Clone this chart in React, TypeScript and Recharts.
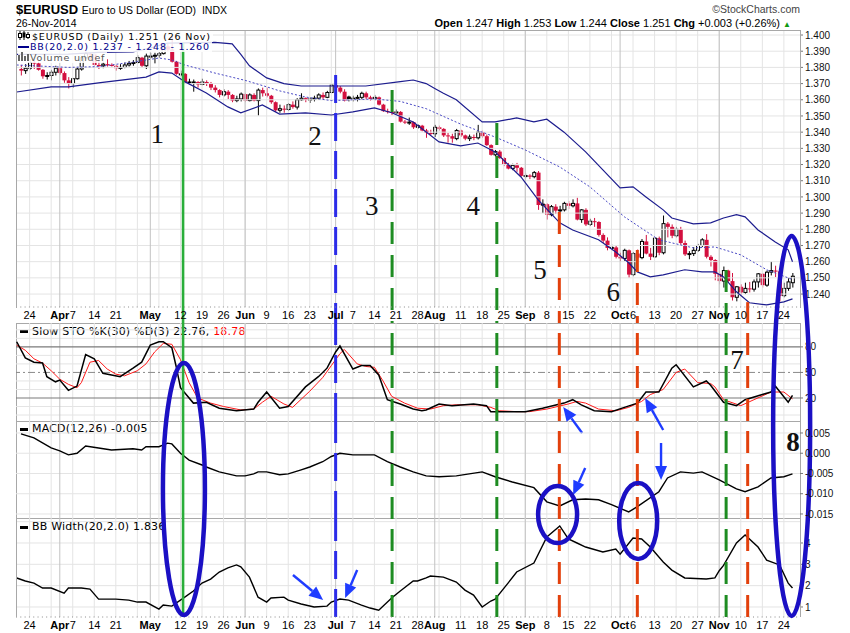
import React from 'react';
import { ComposedChart, Bar, Line, XAxis, YAxis, ReferenceLine, ReferenceDot } from 'recharts';

// ---------- daily candles: index 0 = 20-Mar-2014 ... 179 = 26-Nov-2014 ----------
const opens = [
  1.3790, 1.3780, 1.3795, 1.3830, 1.3825, 1.3785, 1.3745, 1.3750, 1.3770, 1.3795,
  1.3765, 1.3720, 1.3700, 1.3730, 1.3790, 1.3860, 1.3885, 1.3880, 1.3815, 1.3810,
  1.3820, 1.3815, 1.3810, 1.3795, 1.3800, 1.3815, 1.3825, 1.3830, 1.3860, 1.3810,
  1.3870, 1.3870, 1.3875, 1.3885, 1.3930, 1.3910, 1.3835, 1.3760, 1.3760, 1.3710,
  1.3710, 1.3710, 1.3695, 1.3710, 1.3700, 1.3675, 1.3660, 1.3630, 1.3650, 1.3630,
  1.3595, 1.3605, 1.3635, 1.3595, 1.3630, 1.3595, 1.3660, 1.3640, 1.3625, 1.3585,
  1.3535, 1.3545, 1.3540, 1.3570, 1.3555, 1.3600, 1.3610, 1.3600, 1.3605, 1.3610,
  1.3630, 1.3615, 1.3645, 1.3690, 1.3675, 1.3650, 1.3620, 1.3605, 1.3610, 1.3615,
  1.3640, 1.3615, 1.3605, 1.3615, 1.3570, 1.3530, 1.3525, 1.3520, 1.3525, 1.3465,
  1.3460, 1.3462, 1.3430, 1.3440, 1.3410, 1.3395, 1.3390, 1.3430, 1.3420, 1.3380,
  1.3375, 1.3360, 1.3410, 1.3380, 1.3360, 1.3370, 1.3365, 1.3400, 1.3375, 1.3320,
  1.3260, 1.3280, 1.3240, 1.3200, 1.3175, 1.3195, 1.3180, 1.3130, 1.3132, 1.3125,
  1.3150, 1.2950, 1.2955, 1.2890, 1.2940, 1.2915, 1.2920, 1.2960, 1.2945, 1.2960,
  1.2860, 1.2920, 1.2830, 1.2850, 1.2845, 1.2765, 1.2730, 1.2685, 1.2688, 1.2630,
  1.2620, 1.2670, 1.2520, 1.2650, 1.2625, 1.2725, 1.2650, 1.2630, 1.2745, 1.2655,
  1.2835, 1.2815, 1.2760, 1.2800, 1.2715, 1.2645, 1.2650, 1.2670, 1.2700, 1.2735,
  1.2630, 1.2610, 1.2525, 1.2480, 1.2545, 1.2480, 1.2380, 1.2445, 1.2410, 1.2435,
  1.2430, 1.2475, 1.2525, 1.2455, 1.2535, 1.2545, 1.2540, 1.2390, 1.2435, 1.2470,
];
const highs = [
  1.3815, 1.3820, 1.3850, 1.3845, 1.3835, 1.3790, 1.3770, 1.3785, 1.3810, 1.3800,
  1.3775, 1.3740, 1.3735, 1.3800, 1.3870, 1.3905, 1.3890, 1.3885, 1.3850, 1.3835,
  1.3850, 1.3825, 1.3815, 1.3820, 1.3830, 1.3840, 1.3845, 1.3875, 1.3865, 1.3885,
  1.3890, 1.3890, 1.3895, 1.3950, 1.3950, 1.3993, 1.3840, 1.3780, 1.3765, 1.3730,
  1.3725, 1.3715, 1.3730, 1.3720, 1.3710, 1.3690, 1.3665, 1.3665, 1.3660, 1.3635,
  1.3625, 1.3645, 1.3640, 1.3640, 1.3640, 1.3670, 1.3675, 1.3675, 1.3630, 1.3590,
  1.3570, 1.3565, 1.3580, 1.3590, 1.3610, 1.3640, 1.3615, 1.3615, 1.3625, 1.3640,
  1.3645, 1.3655, 1.3700, 1.3700, 1.3685, 1.3665, 1.3625, 1.3625, 1.3630, 1.3650,
  1.3650, 1.3625, 1.3630, 1.3620, 1.3575, 1.3545, 1.3535, 1.3540, 1.3530, 1.3475,
  1.3490, 1.3465, 1.3450, 1.3445, 1.3420, 1.3415, 1.3445, 1.3440, 1.3425, 1.3395,
  1.3390, 1.3420, 1.3415, 1.3385, 1.3385, 1.3385, 1.3445, 1.3410, 1.3385, 1.3325,
  1.3290, 1.3290, 1.3245, 1.3210, 1.3205, 1.3210, 1.3185, 1.3145, 1.3140, 1.3160,
  1.3160, 1.2985, 1.2960, 1.2950, 1.2955, 1.2945, 1.2970, 1.2975, 1.2985, 1.2995,
  1.2925, 1.2930, 1.2865, 1.2870, 1.2850, 1.2775, 1.2750, 1.2705, 1.2700, 1.2655,
  1.2680, 1.2675, 1.2660, 1.2675, 1.2740, 1.2765, 1.2685, 1.2750, 1.2755, 1.2885,
  1.2845, 1.2830, 1.2815, 1.2815, 1.2730, 1.2665, 1.2690, 1.2710, 1.2745, 1.2770,
  1.2640, 1.2615, 1.2545, 1.2570, 1.2550, 1.2530, 1.2450, 1.2460, 1.2470, 1.2475,
  1.2490, 1.2530, 1.2530, 1.2545, 1.2600, 1.2575, 1.2555, 1.2470, 1.2500, 1.2530,
];
const lows = [
  1.3750, 1.3760, 1.3785, 1.3790, 1.3780, 1.3730, 1.3725, 1.3720, 1.3750, 1.3755,
  1.3705, 1.3670, 1.3675, 1.3725, 1.3780, 1.3850, 1.3840, 1.3810, 1.3790, 1.3795,
  1.3805, 1.3805, 1.3780, 1.3785, 1.3795, 1.3805, 1.3810, 1.3825, 1.3800, 1.3790,
  1.3855, 1.3825, 1.3860, 1.3880, 1.3895, 1.3830, 1.3755, 1.3745, 1.3700, 1.3695,
  1.3650, 1.3675, 1.3690, 1.3685, 1.3660, 1.3645, 1.3615, 1.3620, 1.3605, 1.3585,
  1.3585, 1.3590, 1.3585, 1.3590, 1.3590, 1.3503, 1.3620, 1.3615, 1.3575, 1.3525,
  1.3520, 1.3520, 1.3530, 1.3545, 1.3540, 1.3595, 1.3585, 1.3580, 1.3590, 1.3600,
  1.3605, 1.3610, 1.3640, 1.3665, 1.3640, 1.3590, 1.3590, 1.3590, 1.3590, 1.3600,
  1.3600, 1.3595, 1.3595, 1.3565, 1.3525, 1.3515, 1.3505, 1.3510, 1.3460, 1.3450,
  1.3445, 1.3420, 1.3420, 1.3405, 1.3365, 1.3380, 1.3370, 1.3410, 1.3370, 1.3335,
  1.3335, 1.3350, 1.3370, 1.3350, 1.3345, 1.3350, 1.3355, 1.3365, 1.3315, 1.3255,
  1.3250, 1.3235, 1.3190, 1.3170, 1.3165, 1.3155, 1.3125, 1.3115, 1.3110, 1.3115,
  1.2920, 1.2900, 1.2860, 1.2880, 1.2895, 1.2905, 1.2910, 1.2925, 1.2935, 1.2855,
  1.2840, 1.2820, 1.2820, 1.2815, 1.2755, 1.2715, 1.2670, 1.2670, 1.2620, 1.2600,
  1.2605, 1.2500, 1.2510, 1.2615, 1.2615, 1.2645, 1.2610, 1.2625, 1.2640, 1.2645,
  1.2750, 1.2745, 1.2750, 1.2705, 1.2635, 1.2615, 1.2635, 1.2660, 1.2690, 1.2620,
  1.2570, 1.2485, 1.2460, 1.2440, 1.2470, 1.2360, 1.2355, 1.2395, 1.2400, 1.2410,
  1.2415, 1.2440, 1.2440, 1.2445, 1.2515, 1.2505, 1.2355, 1.2380, 1.2420, 1.2440,
];
const closes = [
  1.3780, 1.3795, 1.3830, 1.3825, 1.3785, 1.3745, 1.3750, 1.3770, 1.3795, 1.3765,
  1.3720, 1.3700, 1.3730, 1.3790, 1.3860, 1.3885, 1.3880, 1.3815, 1.3810, 1.3820,
  1.3815, 1.3810, 1.3795, 1.3800, 1.3815, 1.3825, 1.3830, 1.3860, 1.3810, 1.3870,
  1.3870, 1.3875, 1.3885, 1.3930, 1.3910, 1.3835, 1.3760, 1.3760, 1.3710, 1.3710,
  1.3710, 1.3695, 1.3710, 1.3700, 1.3675, 1.3660, 1.3630, 1.3650, 1.3630, 1.3595,
  1.3605, 1.3635, 1.3595, 1.3630, 1.3595, 1.3660, 1.3640, 1.3625, 1.3585, 1.3535,
  1.3545, 1.3540, 1.3570, 1.3555, 1.3600, 1.3610, 1.3600, 1.3605, 1.3610, 1.3630,
  1.3615, 1.3645, 1.3690, 1.3675, 1.3650, 1.3595, 1.3605, 1.3610, 1.3615, 1.3640,
  1.3615, 1.3605, 1.3615, 1.3570, 1.3530, 1.3525, 1.3520, 1.3525, 1.3465, 1.3460,
  1.3462, 1.3430, 1.3440, 1.3410, 1.3395, 1.3390, 1.3430, 1.3420, 1.3380, 1.3375,
  1.3360, 1.3410, 1.3380, 1.3360, 1.3370, 1.3365, 1.3400, 1.3375, 1.3320, 1.3260,
  1.3280, 1.3240, 1.3200, 1.3175, 1.3195, 1.3180, 1.3130, 1.3132, 1.3125, 1.3150,
  1.2950, 1.2955, 1.2890, 1.2940, 1.2915, 1.2920, 1.2960, 1.2945, 1.2960, 1.2860,
  1.2920, 1.2830, 1.2850, 1.2845, 1.2765, 1.2730, 1.2685, 1.2688, 1.2630, 1.2620,
  1.2670, 1.2520, 1.2650, 1.2625, 1.2725, 1.2650, 1.2630, 1.2745, 1.2655, 1.2835,
  1.2815, 1.2760, 1.2800, 1.2715, 1.2645, 1.2650, 1.2670, 1.2700, 1.2735, 1.2630,
  1.2610, 1.2525, 1.2480, 1.2545, 1.2480, 1.2380, 1.2445, 1.2410, 1.2435, 1.2430,
  1.2475, 1.2525, 1.2455, 1.2535, 1.2545, 1.2540, 1.2390, 1.2435, 1.2475, 1.2510,
];

// ---------- indicator lines: [dayIndex, value] ----------
const bbUpper = [[-1,1.3880],[11,1.3882],[18,1.3893],[26,1.3895],[30,1.3920],[34,1.3950],[45,1.3955],[49,1.3945],[51,1.3880],[53,1.3810],[57,1.3735],[61,1.3700],[65,1.3685],[72,1.3685],[80,1.3685],[88,1.3712],[91,1.3722],[94,1.3700],[96,1.3670],[98,1.3640],[101,1.3600],[107,1.3463],[110,1.3463],[115,1.3488],[119,1.3463],[122,1.3480],[126,1.3400],[131,1.3278],[135,1.3167],[139,1.3056],[142,1.3062],[145,1.3000],[149,1.2920],[151,1.2870],[156,1.2833],[160,1.2840],[163,1.2870],[166,1.2890],[168,1.2877],[171,1.2796],[175,1.2722],[178,1.2673],[179,1.2600]];
const bbMid = [[-1,1.3815],[11,1.3800],[18,1.3805],[26,1.3833],[32,1.3858],[35,1.3846],[38,1.3815],[45,1.3765],[52,1.3720],[57,1.3680],[60,1.3655],[66,1.3617],[72,1.3595],[82,1.3605],[88,1.3590],[94,1.3545],[102,1.3450],[110,1.3370],[117,1.3290],[125,1.3185],[132,1.3062],[140,1.2877],[148,1.2735],[156,1.2685],[161,1.2691],[167,1.2642],[173,1.2550],[179,1.2490]];
const bbLower = [[-1,1.3648],[7,1.3680],[11,1.3680],[18,1.3704],[29,1.3740],[32,1.3772],[35,1.3765],[38,1.3712],[43,1.3642],[48,1.3556],[51,1.3519],[56,1.3568],[60,1.3512],[66,1.3519],[72,1.3506],[77,1.3525],[82,1.3550],[86,1.3520],[91,1.3463],[97,1.3340],[102,1.3315],[106,1.3333],[110,1.3278],[116,1.3123],[120,1.2982],[125,1.2840],[128,1.2796],[134,1.2735],[138,1.2660],[141,1.2593],[143,1.2537],[146,1.2506],[149,1.2518],[154,1.2550],[158,1.2537],[161,1.2537],[163,1.2506],[166,1.2414],[169,1.2346],[173,1.2333],[177,1.2352],[179,1.2370]];
const stoK = [[-1,86],[1,67],[3,62],[5,61],[6,45],[8,39],[9,41],[11,29],[13,34],[15,71],[17,66],[19,49],[21,47],[23,45],[26,55],[28,62],[30,82],[32,86],[33,86],[35,79],[36,57],[37,32],[40,14],[43,15],[46,8],[50,5],[54,7],[55,15],[57,27],[60,8],[62,10],[66,33],[69,45],[71,55],[73,74],[74,81],[77,54],[79,58],[81,58],[83,47],[85,18],[88,13],[91,7],[93,5],[94,6],[97,13],[100,11],[105,13],[108,11],[109,4],[114,4],[117,4],[121,8],[126,14],[128,18],[130,12],[133,5],[137,4],[140,9],[143,14],[145,27],[148,27],[151,55],[152,59],[156,33],[159,40],[160,35],[163,15],[166,11],[168,18],[172,24],[174,27],[175,34],[178,15],[179,23]];
const stoD = [[-1,82],[1,76],[3,66],[5,61],[7,52],[9,42],[11,36],[13,32],[14,38],[16,62],[18,64],[20,54],[22,48],[24,46],[27,52],[29,60],[31,74],[33,84],[35,83],[37,65],[39,38],[41,20],[44,14],[47,10],[51,6],[54,7],[56,15],[58,22],[61,13],[63,9],[67,28],[70,44],[72,58],[74,72],[75,77],[78,60],[80,57],[82,56],[84,40],[86,22],[89,14],[92,8],[95,7],[98,11],[101,12],[106,12],[109,9],[111,5],[115,4],[118,4],[122,7],[127,13],[129,16],[131,14],[134,7],[138,5],[141,9],[144,16],[146,24],[149,30],[152,50],[154,54],[157,38],[160,37],[161,33],[163,18],[167,11],[174,27],[177,27],[179,19]];
const macd = [[0,0.0048],[3,0.0038],[7,0.0013],[9,0.0006],[11,-0.0004],[13,0.0000],[15,0.0018],[18,0.0013],[21,0.0008],[26,0.0011],[28,0.0008],[29,0.0016],[32,0.0016],[34,0.0025],[35,0.0023],[37,0.0000],[39,-0.0017],[42,-0.0029],[43,-0.0034],[46,-0.0046],[50,-0.0056],[52,-0.0056],[54,-0.0051],[55,-0.0046],[57,-0.0046],[60,-0.0053],[62,-0.0051],[65,-0.0041],[67,-0.0034],[70,-0.0021],[72,-0.0008],[74,0.0000],[77,-0.0004],[82,-0.0004],[85,-0.0021],[88,-0.0034],[91,-0.0046],[94,-0.0056],[97,-0.0058],[101,-0.0056],[107,-0.0046],[110,-0.0058],[114,-0.0071],[119,-0.0085],[122,-0.0120],[125,-0.0130],[128,-0.0115],[131,-0.0113],[134,-0.0115],[137,-0.0127],[141,-0.0145],[143,-0.0132],[148,-0.0095],[150,-0.0061],[153,-0.0046],[156,-0.0049],[158,-0.0046],[162,-0.0066],[166,-0.0088],[168,-0.0095],[171,-0.0083],[174,-0.0061],[177,-0.0058],[179,-0.0051]];
const bbWidth = [[-1,2.36],[1,2.22],[3,2.12],[5,1.89],[7,1.89],[10,1.65],[11,1.89],[14,1.89],[16,1.84],[18,1.37],[22,1.37],[25,1.32],[27,1.23],[29,1.23],[32,0.90],[33,1.09],[35,1.04],[38,1.46],[40,1.75],[42,2.12],[44,2.31],[46,2.64],[48,2.83],[50,2.97],[51,2.88],[53,2.40],[55,1.46],[57,1.23],[58,1.42],[61,1.46],[62,1.32],[65,1.14],[68,1.00],[71,1.04],[72,1.23],[74,1.37],[76,1.32],[79,1.09],[81,0.95],[83,0.85],[86,1.42],[88,1.75],[91,2.22],[92,2.22],[94,2.36],[95,2.45],[98,2.40],[101,2.17],[103,1.79],[105,1.56],[107,1.00],[109,1.28],[110,1.37],[113,2.12],[115,2.64],[119,3.06],[122,4.28],[125,4.80],[127,4.19],[129,4.00],[131,3.81],[135,3.58],[138,3.72],[139,3.48],[142,4.23],[144,4.19],[146,3.81],[149,3.11],[151,2.73],[154,2.36],[159,2.31],[161,2.36],[162,2.70],[163,2.95],[166,4.00],[168,4.38],[171,3.81],[173,3.20],[176,2.97],[178,2.12],[179,1.89]];

// ---------- axis ticks ----------
const dateTickIdx = [2, 9, 12, 17, 22, 30, 37, 42, 47, 52, 57, 62, 67, 73, 77, 82, 87, 92, 96, 102, 107, 112, 117, 122, 127, 132, 139, 142, 147, 152, 157, 162, 167, 172, 177];
const dateTickText = ['24', 'Apr', '7', '14', '21', 'May', '12', '19', '26', 'Jun', '9', '16', '23', 'Jul', '7', '14', '21', '28', 'Aug', '11', '18', '25', 'Sep', '8', '15', '22', 'Oct', '6', '13', '20', '27', 'Nov', '10', '17', '24'];
const monthIdx = [9, 30, 52, 73, 96, 117, 139, 162];
const weekIdx = [2, 7, 12, 17, 22, 27, 32, 37, 42, 47, 52, 57, 62, 67, 72, 77, 82, 87, 92, 97, 102, 107, 112, 117, 122, 127, 132, 137, 142, 147, 152, 157, 162, 167, 172, 177];
const priceTicks = [1.24, 1.25, 1.26, 1.27, 1.28, 1.29, 1.30, 1.31, 1.32, 1.33, 1.34, 1.35, 1.36, 1.37, 1.38, 1.39, 1.40];
const stoTicks = [20, 50, 80];
const stoLightLines = [0, 10, 30, 40, 60, 70, 90, 100];
const macdTicks = [-0.015, -0.010, -0.005, 0, 0.005];
const bbwTicks = [1, 2, 3, 4];
const bbwGrid = [1, 2, 3, 4, 5];

// ---------- hand-drawn annotations (positions in day index / panel units) ----------
const markerIdx = [37.6, 73.0, 86.1, 110.4, 124.9, 143.0, 163.6, 168.6];
const markerTop = [1.3951, 1.3753, 1.3660, 1.3457, 1.2907, 1.2672, 1.2549, 1.2350];
const markerKind = ['solidGreen', 'dashBlue', 'dashGreen', 'dashGreen', 'dashRed', 'dashRed', 'dashGreen', 'dashRed'];
const numberLabels = [
  { t: '1', i: 31.6, v: 1.3389 }, { t: '2', i: 68.2, v: 1.3376 }, { t: '3', i: 81.4, v: 1.2944 },
  { t: '4', i: 104.9, v: 1.2944 }, { t: '5', i: 120.4, v: 1.2549 }, { t: '6', i: 137.4, v: 1.2413 },
];
const ellipses = [
  { i: 37.8, v: -0.00883, rx: 21, ry: 126 },
  { i: 124.5, v: -0.01513, rx: 19.5, ry: 28.5 },
  { i: 143.2, v: -0.01673, rx: 19, ry: 38 },
  { i: 178.8, v: 0.00673, rx: 18.5, ry: 190 },
];
const bbwArrows = [[[63.1, 2.50], [70.1, 1.33]], [[78.0, 2.73], [75.2, 1.42]]];
const stoArrows = [[[130.2, -21.1], [125.8, 9.4]], [[149.0, -17.6], [144.8, 20.0]]];
const macdArrows = [[[130.9, -0.00365], [128.1, -0.01031]], [[148.5, 0.00253], [148.5, -0.00661]]];

// ---------- constants ----------
const X_DOMAIN = [-1.16, 180.74];
const PRICE_DOMAIN = [1.2320, 1.4031];
const STO_DOMAIN = [-7, 108];
const MACD_DOMAIN = [-0.01624, 0.00796];
const BBW_DOMAIN = [0.53, 5.125];
const LABEL_ROW_BOTTOM = 1.2221;
const FONT_UI = '"DejaVu Sans", Verdana, sans-serif';
const FONT_AX = '"Liberation Sans", Arial, sans-serif';
const FONT_NUM = '"Liberation Serif", "DejaVu Serif", serif';
const RED = '#d3103f';
const BB = '#1c1c8e';
const ANNO = '#1b10c4';
const ARROW = '#1f3cff';
const GRID = '#e4e4e4';
const MONTH_GRID = '#c2c2c2';
const MARGIN = { top: 0, right: 0, bottom: 0, left: 16 };

const kindStyle: any = {
  solidGreen: { stroke: '#2aae3a', w: 2.6, dash: undefined },
  dashBlue: { stroke: '#2b2be8', w: 3, dash: '28 10' },
  dashGreen: { stroke: '#1e8c22', w: 3, dash: '22 11' },
  dashRed: { stroke: '#e2400c', w: 3, dash: '22 11' },
};

const pts = (a: number[][]) => a.map(([i, v]) => ({ i, v }));
const candles = closes.map((c, i) => ({
  i, o: opens[i], h: highs[i], l: lows[i], c, prev: i > 0 ? closes[i - 1] : opens[i],
}));

const Candle = (p: any) => {
  const { x, y, width, height, payload } = p;
  if (!payload || !isFinite(y) || !isFinite(x)) return null;
  const { o, h, l, c, prev } = payload;
  const span = h - l;
  const toY = (v: number) => (span > 0 ? y + ((h - v) / span) * height : y);
  const cx = x + width / 2;
  const color = c >= prev ? '#000000' : RED;
  const hollow = c >= o;
  const top = toY(Math.max(o, c));
  const bot = toY(Math.min(o, c));
  const bh = Math.max(bot - top, 1);
  return (
    <g>
      <line x1={cx} x2={cx} y1={y} y2={y + height} stroke={color} strokeWidth={1} />
      {hollow ? (
        <rect x={cx - 1.5} y={top} width={3} height={bh} fill="#fff" stroke={color} strokeWidth={1} />
      ) : (
        <rect x={cx - 2} y={top} width={4} height={bh} fill={color} />
      )}
    </g>
  );
};

const DateTick = (p: any) => {
  const k = dateTickIdx.indexOf(p.payload.value);
  const bold = monthIdx.includes(p.payload.value);
  return (
    <text x={p.x} y={p.y + 12} textAnchor="middle" fontSize={11} fontWeight={bold ? 'bold' : 'normal'} fontFamily={FONT_AX} fill="#000">
      {k >= 0 ? dateTickText[k] : ''}
    </text>
  );
};

const rightTick = (fmt: (v: number) => string) => (p: any) => (
  <text x={p.x} y={p.y} dy={3.6} textAnchor="start" fontSize={10} fontFamily={FONT_AX} fill="#111">
    {fmt(p.payload.value)}
  </text>
);

const arrowShape = (p: any) => {
  const { x1, y1, x2, y2 } = p;
  const ang = Math.atan2(y2 - y1, x2 - x1);
  const L = 14, hw = 6;
  const bx = x2 - L * Math.cos(ang), by = y2 - L * Math.sin(ang);
  const px = -Math.sin(ang) * hw, py = Math.cos(ang) * hw;
  return (
    <g>
      <line x1={x1} y1={y1} x2={bx} y2={by} stroke={ARROW} strokeWidth={2.4} />
      <polygon points={`${x2},${y2} ${bx + px},${by + py} ${bx - px},${by - py}`} fill={ARROW} />
    </g>
  );
};

const ellipseShape = (rx: number, ry: number) => (p: any) => (
  <ellipse cx={p.cx} cy={p.cy} rx={rx} ry={ry} fill="none" stroke={ANNO} strokeWidth={4.5} />
);

const numberShape = (t: string, bold: boolean) => (p: any) => (
  <text x={p.cx} y={p.cy} dy={9} textAnchor="middle" fontSize={27} fontWeight={bold ? 'bold' : 'normal'} fontFamily={FONT_NUM} fill="#111">
    {t}
  </text>
);

const verticalGrid = () => [
  ...weekIdx.map((i) => <ReferenceLine key={'w' + i} x={i} stroke={GRID} strokeWidth={1} />),
  ...monthIdx.map((i) => <ReferenceLine key={'m' + i} x={i} stroke={MONTH_GRID} strokeWidth={1} />),
];

const markerLines = () =>
  markerIdx.map((mi, k) => {
    const s = kindStyle[markerKind[k]];
    return <ReferenceLine key={'mk' + k} x={mi} stroke={s.stroke} strokeWidth={s.w} strokeDasharray={s.dash} />;
  });

const priceLegend: any = { fontFamily: FONT_UI, fontSize: 9.5, lineHeight: '10px', letterSpacing: '0.8px', whiteSpace: 'nowrap', position: 'absolute', background: 'rgba(255,255,255,0.85)', paddingRight: 2 };
const panelLegend: any = { fontFamily: FONT_UI, fontSize: 11, lineHeight: '11px', letterSpacing: '0.2px', whiteSpace: 'nowrap', position: 'absolute' };

export default function App() {
  return (
    <div style={{ position: 'absolute', left: 0, top: 0, width: 850, height: 633, background: '#fff', overflow: 'hidden' }}>
      <style>{'.recharts-wrapper, .recharts-surface { overflow: visible !important; }'}</style>

      {/* header */}
      <div style={{ position: 'absolute', left: 16, top: 2, fontFamily: FONT_AX, fontSize: 13, fontWeight: 'bold', lineHeight: '15px', whiteSpace: 'nowrap' }}>
        $EURUSD <span style={{ fontWeight: 'normal', fontSize: 10.5 }}>Euro to US Dollar (EOD)&nbsp; INDX</span>
      </div>
      <div style={{ position: 'absolute', left: 16, top: 17, fontFamily: FONT_AX, fontSize: 10.5, lineHeight: '12px' }}>26-Nov-2014</div>
      <div style={{ position: 'absolute', right: 50, top: 3, fontFamily: FONT_AX, fontSize: 10.5, lineHeight: '12px', color: '#444' }}>©StockCharts.com</div>
      <div style={{ position: 'absolute', right: 59, top: 16.5, fontFamily: FONT_AX, fontSize: 11, lineHeight: '12px', whiteSpace: 'nowrap' }}>
        <b>Open</b> 1.247 <b>High</b> 1.253 <b>Low</b> 1.244 <b>Close</b> 1.251 <b>Chg</b> +0.003 (+0.26%) <span style={{ color: '#119911', fontSize: 8 }}>▲</span>
      </div>

      {/* panel borders */}
      <div style={{ position: 'absolute', left: 16, top: 30, width: 783, height: 277, borderTop: '1px solid #a8a8a8', borderLeft: '1px solid #a8a8a8', borderRight: '1px solid #a8a8a8', zIndex: 2 }} />
      <div style={{ position: 'absolute', left: 16, top: 323, width: 783, height: 97, border: '1px solid #a8a8a8', zIndex: 2 }} />
      <div style={{ position: 'absolute', left: 16, top: 421, width: 783, height: 97, borderLeft: '1px solid #a8a8a8', borderRight: '1px solid #a8a8a8', borderBottom: '1px solid #a8a8a8', zIndex: 2 }} />
      <div style={{ position: 'absolute', left: 16, top: 519, width: 783, height: 98, borderLeft: '1px solid #a8a8a8', borderRight: '1px solid #a8a8a8', zIndex: 2 }} />

      {/* price panel */}
      <div style={{ position: 'absolute', left: 0, top: 30, width: 850, height: 293, zIndex: 1 }}>
        <ComposedChart width={850} height={293} data={candles} margin={MARGIN}>
          <XAxis dataKey="i" type="number" domain={X_DOMAIN} allowDataOverflow ticks={dateTickIdx} interval={0}
            tick={DateTick} tickLine={false} tickSize={0} tickMargin={0} height={16}
            axisLine={{ stroke: '#8a8a8a', strokeDasharray: '1 3.31' }} />
          <YAxis orientation="right" width={50} domain={PRICE_DOMAIN} allowDataOverflow ticks={priceTicks} interval={0}
            tick={rightTick((v) => v.toFixed(3))} tickSize={3} tickMargin={2} tickLine={{ stroke: '#777' }} axisLine={false} />
          {priceTicks.map((v) => <ReferenceLine key={'h' + v} y={v} stroke={GRID} strokeWidth={1} />)}
          {verticalGrid()}
          <Line data={pts(bbUpper)} dataKey="v" type="linear" stroke={BB} strokeWidth={1.2} dot={false} isAnimationActive={false} />
          <Line data={pts(bbMid)} dataKey="v" type="linear" stroke="#4848c4" strokeWidth={1} strokeDasharray="2 2" dot={false} isAnimationActive={false} />
          <Line data={pts(bbLower)} dataKey="v" type="linear" stroke={BB} strokeWidth={1.2} dot={false} isAnimationActive={false} />
          <Bar dataKey={(d: any) => [d.l, d.h]} barSize={3} shape={Candle} isAnimationActive={false} />
          {markerIdx.map((mi, k) => {
            const s = kindStyle[markerKind[k]];
            return (
              <ReferenceLine key={'pm' + k} ifOverflow="visible" stroke={s.stroke} strokeWidth={s.w} strokeDasharray={s.dash}
                segment={[{ x: mi, y: markerTop[k] }, { x: mi, y: LABEL_ROW_BOTTOM }]} />
            );
          })}
          {numberLabels.map((n) => (
            <ReferenceDot key={'n' + n.t} x={n.i} y={n.v} ifOverflow="visible" shape={numberShape(n.t, false)} />
          ))}
        </ComposedChart>
      </div>

      {/* price legend */}
      <div style={{ ...priceLegend, left: 18, top: 31, zIndex: 6 }}>
        <svg width={12} height={9} style={{ marginRight: 2, verticalAlign: 'baseline' }}>
          <line x1={2} y1={0} x2={2} y2={9} stroke="#000" /><rect x={0.5} y={2.5} width={3} height={4} fill="#fff" stroke="#000" />
          <line x1={6} y1={0} x2={6} y2={9} stroke="#000" /><rect x={4.5} y={1.5} width={3} height={5} fill="#000" />
          <line x1={10} y1={1} x2={10} y2={8} stroke="#000" /><rect x={8.5} y={3.5} width={3} height={3} fill="#fff" stroke="#000" />
        </svg>
        $EURUSD (Daily) 1.251 (26 Nov)
      </div>
      <div style={{ ...priceLegend, left: 18, top: 41.5, zIndex: 6, color: '#00008b' }}>
        <span style={{ display: 'inline-block', width: 11, height: 2, background: '#00008b', verticalAlign: 'middle', marginRight: 1 }} />BB(20,2.0) 1.237 - 1.248 - 1.260
      </div>
      <div style={{ ...priceLegend, left: 18, top: 52, zIndex: 6, color: '#555' }}>
        <svg width={11} height={9} style={{ marginRight: 1, verticalAlign: 'baseline' }}>
          <rect x={0} y={3} width={2} height={6} fill="#666" /><rect x={3} y={0} width={2} height={9} fill="#666" />
          <rect x={6} y={4} width={2} height={5} fill="#666" /><rect x={9} y={2} width={2} height={7} fill="#666" />
        </svg>
        Volume undef
      </div>

      {/* slow stochastic panel */}
      <div style={{ position: 'absolute', left: 0, top: 323, width: 850, height: 98, zIndex: 9 }}>
        <ComposedChart width={850} height={98} margin={MARGIN}>
          <XAxis dataKey="i" type="number" domain={X_DOMAIN} allowDataOverflow hide />
          <YAxis orientation="right" width={50} domain={STO_DOMAIN} allowDataOverflow ticks={stoTicks} interval={0}
            tick={rightTick((v) => String(v))} tickSize={3} tickMargin={2} tickLine={{ stroke: '#777' }} axisLine={false} />
          {stoLightLines.map((v) => <ReferenceLine key={'sl' + v} y={v} stroke={GRID} strokeWidth={1} />)}
          {verticalGrid()}
          <ReferenceLine y={80} stroke="#7a7a7a" strokeWidth={1.2} />
          <ReferenceLine y={20} stroke="#7a7a7a" strokeWidth={1.2} />
          <ReferenceLine y={50} stroke="#8a8a8a" strokeWidth={1} strokeDasharray="7 3 2 3" />
          <Line data={pts(stoD)} dataKey="v" type="linear" stroke="#ff1a1a" strokeWidth={1} dot={false} isAnimationActive={false} />
          <Line data={pts(stoK)} dataKey="v" type="linear" stroke="#000" strokeWidth={1.5} dot={false} isAnimationActive={false} />
          {markerLines()}
          {stoArrows.map((a, k) => (
            <ReferenceLine key={'sa' + k} ifOverflow="visible" segment={[{ x: a[0][0], y: a[0][1] }, { x: a[1][0], y: a[1][1] }]} shape={arrowShape} />
          ))}
          <ReferenceDot x={166.1} y={64.6} ifOverflow="visible" shape={numberShape('7', false)} />
        </ComposedChart>
      </div>
      <div style={{ ...panelLegend, left: 20, top: 325.5, zIndex: 6 }}>
        <span style={{ display: 'inline-block', width: 8, height: 3, background: '#000', verticalAlign: 'middle', marginRight: 4 }} />
        Slow STO %K(30) %D(3) 22.76, <span style={{ color: '#ff0000' }}>18.78</span>
      </div>

      {/* MACD panel */}
      <div style={{ position: 'absolute', left: 0, top: 421, width: 850, height: 98, zIndex: 10 }}>
        <ComposedChart width={850} height={98} margin={MARGIN}>
          <XAxis dataKey="i" type="number" domain={X_DOMAIN} allowDataOverflow hide />
          <YAxis orientation="right" width={50} domain={MACD_DOMAIN} allowDataOverflow ticks={macdTicks} interval={0}
            tick={rightTick((v) => v.toFixed(3))} tickSize={3} tickMargin={2} tickLine={{ stroke: '#777' }} axisLine={false} />
          {macdTicks.map((v) => <ReferenceLine key={'mh' + v} y={v} stroke={GRID} strokeWidth={1} />)}
          {verticalGrid()}
          <Line data={pts(macd)} dataKey="v" type="linear" stroke="#000" strokeWidth={1.4} dot={false} isAnimationActive={false} />
          {markerLines()}
          {macdArrows.map((a, k) => (
            <ReferenceLine key={'ma' + k} ifOverflow="visible" segment={[{ x: a[0][0], y: a[0][1] }, { x: a[1][0], y: a[1][1] }]} shape={arrowShape} />
          ))}
          {ellipses.map((e, k) => (
            <ReferenceDot key={'el' + k} x={e.i} y={e.v} ifOverflow="visible" shape={ellipseShape(e.rx, e.ry)} />
          ))}
          <ReferenceDot x={179.1} y={0.00277} ifOverflow="visible" shape={numberShape('8', true)} />
        </ComposedChart>
      </div>
      <div style={{ ...panelLegend, left: 20, top: 423, zIndex: 6 }}>
        <span style={{ display: 'inline-block', width: 8, height: 3, background: '#000', verticalAlign: 'middle', marginRight: 4 }} />
        MACD(12,26) -0.005
      </div>

      {/* BB width panel */}
      <div style={{ position: 'absolute', left: 0, top: 519, width: 850, height: 114, zIndex: 1 }}>
        <ComposedChart width={850} height={114} margin={MARGIN}>
          <XAxis dataKey="i" type="number" domain={X_DOMAIN} allowDataOverflow ticks={dateTickIdx} interval={0}
            tick={DateTick} tickLine={false} tickSize={0} tickMargin={0} height={16}
            axisLine={{ stroke: '#8a8a8a', strokeDasharray: '1 3.31' }} />
          <YAxis orientation="right" width={50} domain={BBW_DOMAIN} allowDataOverflow ticks={bbwTicks} interval={0}
            tick={rightTick((v) => String(v))} tickSize={3} tickMargin={2} tickLine={{ stroke: '#777' }} axisLine={false} />
          {bbwGrid.map((v) => <ReferenceLine key={'bh' + v} y={v} stroke={GRID} strokeWidth={1} />)}
          {verticalGrid()}
          <Line data={pts(bbWidth)} dataKey="v" type="linear" stroke="#000" strokeWidth={1.4} dot={false} isAnimationActive={false} />
          {markerLines()}
          {bbwArrows.map((a, k) => (
            <ReferenceLine key={'ba' + k} ifOverflow="visible" segment={[{ x: a[0][0], y: a[0][1] }, { x: a[1][0], y: a[1][1] }]} shape={arrowShape} />
          ))}
        </ComposedChart>
      </div>
      <div style={{ ...panelLegend, left: 20, top: 521, zIndex: 6 }}>
        <span style={{ display: 'inline-block', width: 8, height: 3, background: '#000', verticalAlign: 'middle', marginRight: 4 }} />
        BB Width(20,2.0) 1.836
      </div>
    </div>
  );
}
